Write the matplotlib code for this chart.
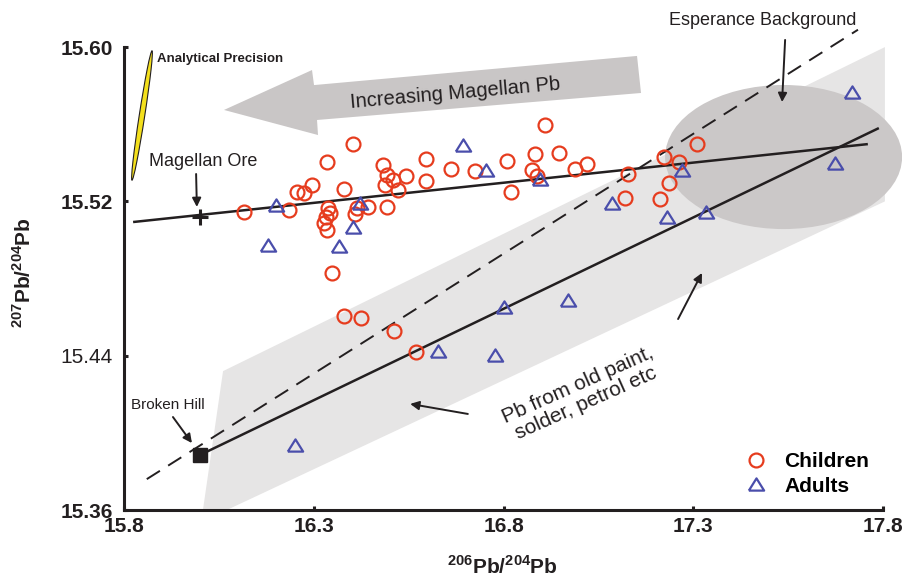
import numpy as np
import matplotlib
matplotlib.use("Agg")
import matplotlib.pyplot as plt
import matplotlib.transforms as mtransforms
from matplotlib.patches import Ellipse, Polygon
from matplotlib.lines import Line2D

plt.rcParams['font.family'] = ['Liberation Sans', 'DejaVu Sans']
plt.rcParams['mathtext.fontset'] = 'custom'
plt.rcParams['mathtext.rm'] = 'Liberation Sans'
plt.rcParams['mathtext.bf'] = 'Liberation Sans:bold'

# 206Pb/204Pb and 207Pb/204Pb ratios
children_x = [16.116, 16.235, 16.256, 16.274, 16.295, 16.335, 16.403, 16.380, 16.338, 16.343,
              16.332, 16.327, 16.335, 16.348, 16.414, 16.409, 16.443, 16.483, 16.493, 16.509,
              16.488, 16.543, 16.522, 16.493, 16.596, 16.596, 16.662, 16.725, 16.809, 16.883,
              16.946, 16.875, 16.888, 16.820, 16.988, 17.020, 16.909, 17.128, 17.120, 17.223,
              17.262, 17.310, 17.236, 17.212, 16.380, 16.425, 16.511, 16.569]
children_y = [15.5145, 15.5155, 15.5249, 15.5243, 15.5285, 15.5404, 15.5497, 15.5264, 15.5166, 15.5140,
              15.5119, 15.5088, 15.5052, 15.4829, 15.5166, 15.5134, 15.5171, 15.5389, 15.5337, 15.5311,
              15.5285, 15.5331, 15.5259, 15.5171, 15.5420, 15.5306, 15.5368, 15.5357, 15.5409, 15.5446,
              15.5451, 15.5363, 15.5331, 15.5249, 15.5368, 15.5394, 15.5596, 15.5342, 15.5217, 15.5430,
              15.5404, 15.5497, 15.5295, 15.5212, 15.4606, 15.4595, 15.4528, 15.4419]

adults_x = [16.201, 16.179, 16.367, 16.403, 16.422, 16.693, 16.754, 16.896, 17.086, 17.231,
            17.270, 17.334, 16.801, 16.970, 16.627, 16.778, 16.251, 17.718, 17.674]
adults_y = [15.5181, 15.4974, 15.4969, 15.5067, 15.5192, 15.5492, 15.5363, 15.5316, 15.5192, 15.5119,
            15.5363, 15.5145, 15.4652, 15.4689, 15.4424, 15.4404, 15.3937, 15.5767, 15.5399]

# end members and mixing lines
magellan_ore = (16.0, 15.512)
broken_hill = (16.0, 15.3885)
magellan_line_x = [15.824, 17.760]
magellan_line_y = [15.5093, 15.5497]
bh_line_x = [16.0, 17.789]
bh_line_y = [15.3885, 15.558]
dashed_x = [15.86, 17.734]
dashed_y = [15.376, 15.609]

# field of old paint / solder / petrol lead
band_x = [16.008, 16.061, 17.805, 17.805, 16.071]
band_y = [15.36, 15.432, 15.600, 15.520, 15.36]
# Esperance background ellipse: centre, width, height
esp_center = (17.538, 15.543)
esp_size = (0.6245, 0.0747)

x_ticks = [15.8, 16.3, 16.8, 17.3, 17.8]
y_ticks = [15.36, 15.44, 15.52, 15.60]

red = '#e63c1e'
blue = '#4a4eab'
ink = '#231f20'

fig = plt.figure(figsize=(9.04, 5.8), dpi=100)
ax = fig.add_axes([124 / 904, 70 / 580, 778 / 904, 501.5 / 580])
ax.set_xlim(15.8, 17.85)
ax.set_ylim(15.36, 15.62)

ax.add_patch(Polygon(list(zip(band_x, band_y)), closed=True, fc='#e6e5e5', ec='none', zorder=1))
ax.add_patch(Ellipse(esp_center, esp_size[0], esp_size[1], fc='#cbc8c8', ec='none', zorder=2))

# big arrow "Increasing Magellan Pb"
arrow_x = [16.0635, 16.2954, 16.3007, 17.1518, 17.1623, 16.3086, 16.3112]
arrow_y = [15.5674, 15.5881, 15.5803, 15.5954, 15.5762, 15.5622, 15.5544]
ax.add_patch(Polygon(list(zip(arrow_x, arrow_y)), closed=True, fc='#c9c6c6', ec='none', zorder=2))
ax.text(16.672, 15.5762, 'Increasing Magellan Pb', fontsize=14.5, color=ink,
        rotation=5, ha='center', va='center', rotation_mode='anchor', zorder=5)

ax.plot(magellan_line_x, magellan_line_y, color=ink, lw=1.8, zorder=3, solid_capstyle='butt')
ax.plot(bh_line_x, bh_line_y, color=ink, lw=1.8, zorder=3, solid_capstyle='butt')
ax.plot(dashed_x, dashed_y, color=ink, lw=1.4, dashes=(8, 5), zorder=3, clip_on=False)

tri = [(-1, -0.8), (1, -0.8), (0, 0.8), (-1, -0.8)]
ax.plot(children_x, children_y, ls='none', marker='o', ms=10, mfc='none', mec=red, mew=1.6, zorder=4)
ax.plot(adults_x, adults_y, ls='none', marker=tri, ms=11, mfc='none', mec=blue, mew=1.6, zorder=4)

ax.plot(*magellan_ore, marker='+', ms=11, mew=2.2, color=ink, zorder=5)
ax.plot(*broken_hill, marker='s', ms=9.5, color=ink, zorder=5)

# annotations
arrowkw = dict(arrowstyle='-|>', color=ink, lw=1.4, mutation_scale=13, shrinkA=0, shrinkB=0)
ax.text(17.484, 15.614, 'Esperance Background', fontsize=13, color=ink, ha='center', va='center')
ax.annotate('', xy=(17.534, 15.5715), xytext=(17.542, 15.6037), arrowprops=arrowkw, zorder=5)
ax.text(16.008, 15.5409, 'Magellan Ore', fontsize=13, color=ink, ha='center', va='center')
ax.annotate('', xy=(15.992, 15.5171), xytext=(15.990, 15.5342), arrowprops=arrowkw, zorder=5)
ax.text(15.916, 15.4144, 'Broken Hill', fontsize=11, color=ink, ha='center', va='center')
ax.annotate('', xy=(15.979, 15.3947), xytext=(15.929, 15.4082), arrowprops=arrowkw, zorder=5)
ax.text(17.007, 15.4201, 'Pb from old paint,\nsolder, petrol etc', fontsize=15, color=ink,
        rotation=24, ha='center', va='center', multialignment='center', rotation_mode='anchor',
        linespacing=1.05)
ax.annotate('', xy=(16.554, 15.4150), xytext=(16.706, 15.4098), arrowprops=arrowkw, zorder=5)
ax.annotate('', xy=(17.323, 15.4829), xytext=(17.260, 15.4590), arrowprops=arrowkw, zorder=5)

# analytical precision ellipse (drawn in pixel space so it keeps its shape)
PX = mtransforms.Affine2D().scale(1, -1).translate(0, 580).scale(1 / 904, 1 / 580) + fig.transFigure
fig.add_artist(Ellipse((142, 115.5), 131, 5.5, angle=-81.2, fc='#f4e01c', ec=ink, lw=0.8, transform=PX))
ax.text(15.887, 15.5938, 'Analytical Precision', fontsize=9.5, fontweight='bold', color=ink,
        ha='left', va='center')

# axes styling
for s in ['top', 'right']:
    ax.spines[s].set_visible(False)
for s in ['left', 'bottom']:
    ax.spines[s].set_linewidth(2.2)
    ax.spines[s].set_color(ink)
    ax.spines[s].set_capstyle('projecting')
ax.spines['left'].set_bounds(15.36, 15.60)
ax.spines['bottom'].set_bounds(15.8, 17.8)
ax.set_xticks(x_ticks)
ax.set_xticklabels([f'{v:.1f}' for v in x_ticks])
ax.set_yticks(y_ticks)
ax.set_yticklabels([f'{v:.2f}' for v in y_ticks])
ax.tick_params(direction='in', length=3, width=2.2, color=ink, labelsize=15, labelcolor=ink)
ax.tick_params(axis='x', pad=5)
ax.tick_params(axis='y', pad=8)
for lab in ax.get_xticklabels() + ax.get_yticklabels():
    lab.set_fontweight('bold')
ax.get_yticklabels()[1].set_fontweight('normal')

ax.set_xlabel(r'$^{\mathbf{206}}$Pb/$^{\mathbf{204}}$Pb', fontsize=15, fontweight='bold', color=ink)
ax.xaxis.set_label_coords(502 / 904, 1 - 555 / 580, transform=fig.transFigure)
ax.set_ylabel(r'$^{\mathbf{207}}$Pb/$^{\mathbf{204}}$Pb', fontsize=15, fontweight='bold', color=ink)
ax.yaxis.set_label_coords(35 / 904, 1 - 273 / 580, transform=fig.transFigure)

handles = [Line2D([], [], ls='none', marker='o', ms=10, mfc='none', mec=red, mew=1.6),
           Line2D([], [], ls='none', marker=tri, ms=11, mfc='none', mec=blue, mew=1.6)]
ax.legend(handles, ['Children', 'Adults'], loc='center left', bbox_to_anchor=(0.7995, 0.0718),
          frameon=False, handlelength=1.0, handletextpad=0.85, labelspacing=0.25,
          borderpad=0, borderaxespad=0, prop={'weight': 'bold', 'size': 15})

fig.savefig('out.png', dpi=100)
